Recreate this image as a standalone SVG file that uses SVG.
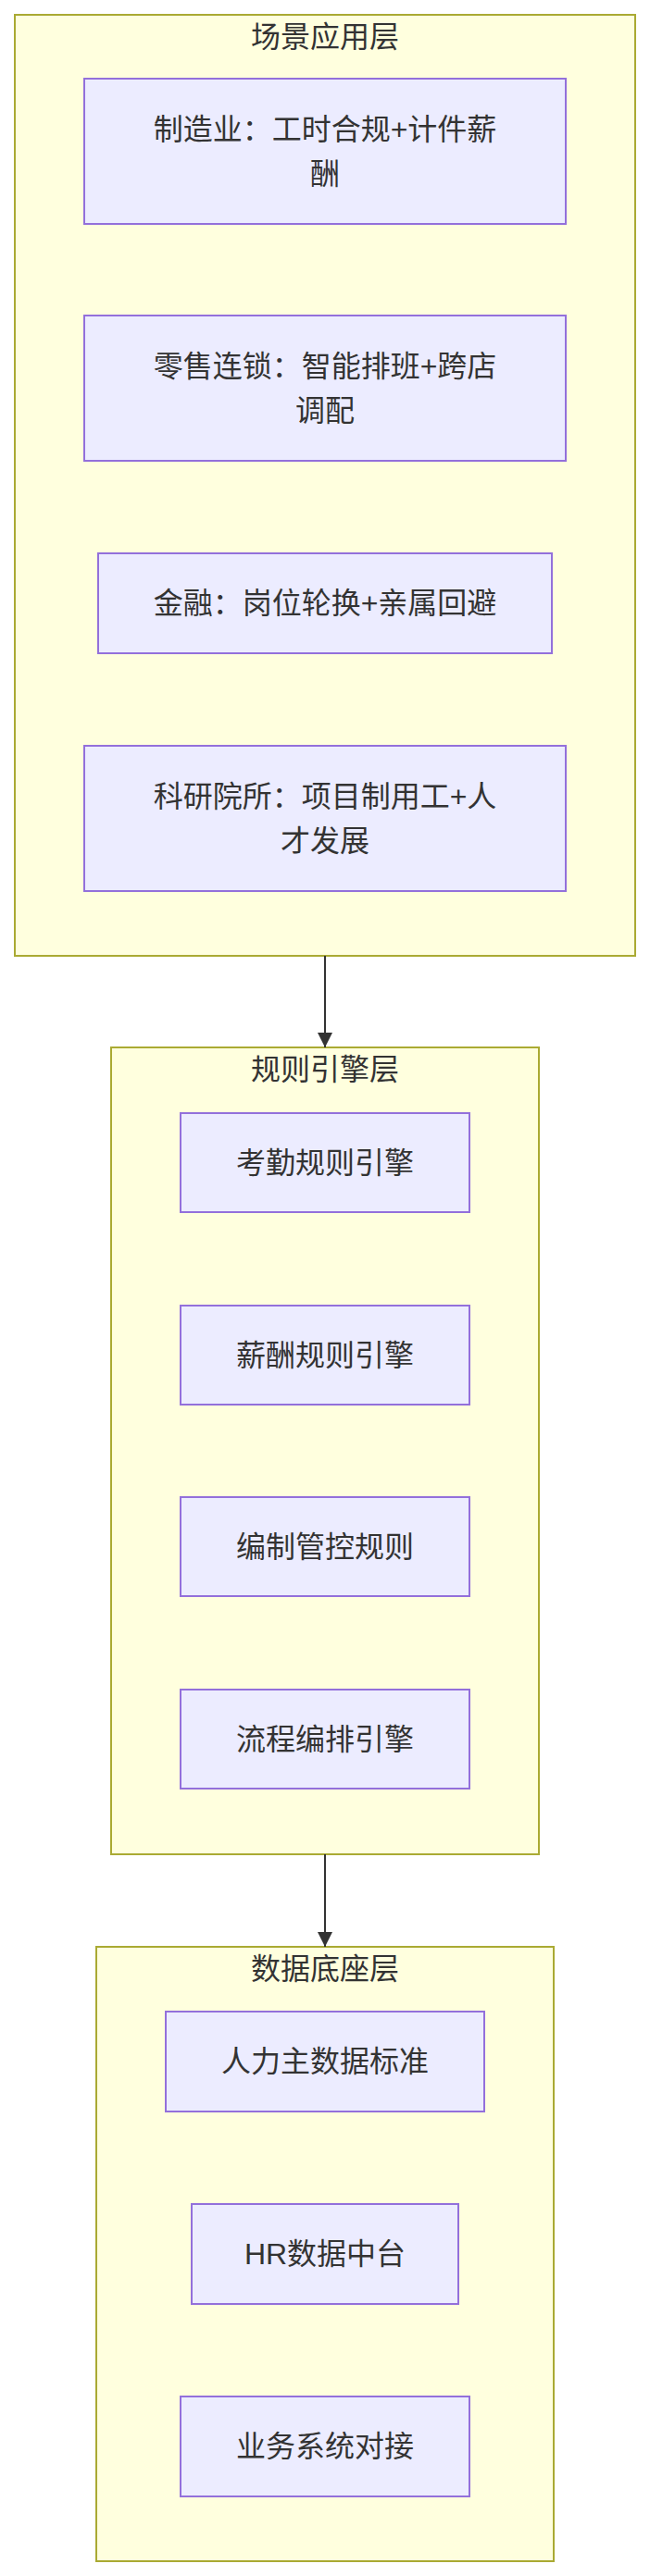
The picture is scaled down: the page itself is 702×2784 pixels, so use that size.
<svg xmlns="http://www.w3.org/2000/svg" width="702" height="2784" viewBox="0 0 702 2784">
<style>
.cluster{fill:#ffffde;stroke:#aaaa33;stroke-width:2}
.node{fill:#ececff;stroke:#9370db;stroke-width:2}
text{font-family:"Liberation Sans","Noto Sans CJK SC",sans-serif;font-size:32px;fill:#333333;text-anchor:middle;dominant-baseline:central}
.edge{stroke:#333333;stroke-width:2;fill:none}
</style>
<defs>
<marker id="arrow" viewBox="0 0 10 10" refX="10" refY="5" markerUnits="userSpaceOnUse" markerWidth="16" markerHeight="16" orient="auto">
<path d="M0,0 L10,5 L0,10 z" fill="#333333"/>
</marker>
</defs>
<rect width="702" height="2784" fill="#ffffff"/>
<g id="layer-scene">
<rect class="cluster" x="16" y="16" width="670" height="1017"/>
<text x="351" y="40">场景应用层</text>
</g>
<g id="layer-rules">
<rect class="cluster" x="120" y="1132" width="462" height="872"/>
<text x="351" y="1156">规则引擎层</text>
</g>
<g id="layer-data">
<rect class="cluster" x="104" y="2104" width="494" height="664"/>
<text x="351" y="2128">数据底座层</text>
</g>
<g id="connectors">
<line class="edge" x1="351" y1="1033" x2="351" y2="1132" marker-end="url(#arrow)"/>
<line class="edge" x1="351" y1="2004" x2="351" y2="2104" marker-end="url(#arrow)"/>
</g>
<g id="n-manufacturing">
<rect class="node" x="91" y="85" width="520" height="157"/>
<text x="351" y="139.5">制造业：工时合规+计件薪</text>
<text x="351" y="187.5">酬</text>
</g>
<g id="n-retail">
<rect class="node" x="91" y="341" width="520" height="157"/>
<text x="351" y="395.5">零售连锁：智能排班+跨店</text>
<text x="351" y="443.5">调配</text>
</g>
<g id="n-finance">
<rect class="node" x="106" y="598" width="490" height="108"/>
<text x="351" y="652">金融：岗位轮换+亲属回避</text>
</g>
<g id="n-research">
<rect class="node" x="91" y="806" width="520" height="157"/>
<text x="351" y="860.5">科研院所：项目制用工+人</text>
<text x="351" y="908.5">才发展</text>
</g>
<g id="n-attendance">
<rect class="node" x="195" y="1203" width="312" height="107"/>
<text x="351" y="1256.5">考勤规则引擎</text>
</g>
<g id="n-payroll">
<rect class="node" x="195" y="1411" width="312" height="107"/>
<text x="351" y="1464.5">薪酬规则引擎</text>
</g>
<g id="n-headcount">
<rect class="node" x="195" y="1618" width="312" height="107"/>
<text x="351" y="1671.5">编制管控规则</text>
</g>
<g id="n-workflow">
<rect class="node" x="195" y="1826" width="312" height="107"/>
<text x="351" y="1879.5">流程编排引擎</text>
</g>
<g id="n-masterdata">
<rect class="node" x="179" y="2174" width="344" height="108"/>
<text x="351" y="2228">人力主数据标准</text>
</g>
<g id="n-hrdata">
<rect class="node" x="207" y="2382" width="288" height="108"/>
<text x="351" y="2436">HR数据中台</text>
</g>
<g id="n-integration">
<rect class="node" x="195" y="2590" width="312" height="108"/>
<text x="351" y="2644">业务系统对接</text>
</g>
</svg>
